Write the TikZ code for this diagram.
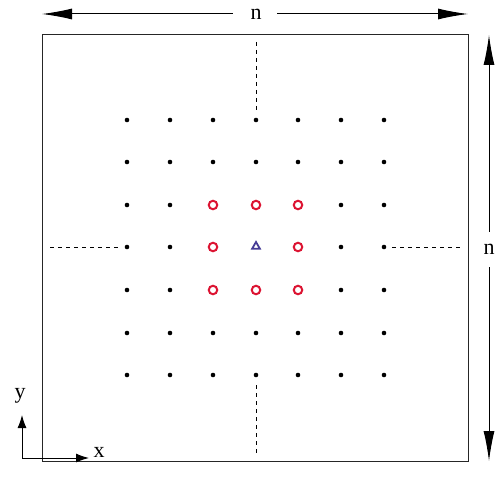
\documentclass[tikz,border=0pt]{standalone}
\usepackage{fontspec}
\setmainfont{Liberation Serif}
\usetikzlibrary{arrows.meta,shapes.geometric}
\definecolor{ringred}{RGB}{220,20,50}
\definecolor{triblue}{RGB}{70,60,150}
\begin{document}
\begin{tikzpicture}[x=1pt,y=-1pt,
  dot/.style={circle,fill=black,inner sep=0pt,minimum size=4.6pt},
  ring/.style={circle,draw=ringred,line width=2pt,inner sep=0pt,minimum size=8.5pt},
  tri/.style={regular polygon,regular polygon sides=3,draw=triblue,line width=1.8pt,inner sep=0pt,minimum size=9pt},
  axis/.style={line width=1pt,-{Latex[length=13pt,width=9pt]}},
  dimarrow/.style={line width=1pt},
  guide/.style={line width=0.7pt,dash pattern=on 4pt off 4pt},
  lab/.style={font=\fontsize{22}{22}\selectfont,inner sep=1pt}]
\useasboundingbox (0,0) rectangle (495,489);
\draw[line width=1pt,draw=black!85] (42,35) rectangle (468,461);
% grid
\foreach \i/\x in {1/127,2/170,3/213,4/256,5/298,6/341,7/384}{
  \foreach \j/\y in {1/120,2/162,3/205,4/247,5/290,6/333,7/375}{
    \pgfmathtruncatemacro{\inr}{(\i>2)*(\i<6)*(\j>2)*(\j<6)}
    \ifnum\inr=0
      \node[dot] (p\i\j) at (\x,\y) {};
    \fi
  }
}
\foreach \i/\x in {3/213,5/298}{
  \foreach \j/\y in {3/205,4/247,5/290}{
    \node[ring] (p\i\j) at (\x,\y) {};
  }
}
\node[ring] (p43) at (256,205) {};
\node[ring] (p45) at (256,290) {};
\node[tri] (p44) at (256,246.5) {};
% dashed guides
\coordinate (tt) at (256,42); \coordinate (tb) at (256,113);
\coordinate (bt) at (256,385); \coordinate (bb) at (256,456);
\coordinate (ll) at (50,247); \coordinate (lr) at (118,247);
\coordinate (rl) at (392,247); \coordinate (rr) at (460,247);
\draw[guide] (tt) -- (tb);
\draw[guide] (bt) -- (bb);
\draw[guide] (ll) -- (lr);
\draw[guide] (rl) -- (rr);
% dimension arrows
\node[lab] (nt) at (256,14) {n};
\coordinate (al) at (42,14); \coordinate (ar) at (468,14);
\draw[dimarrow,{Latex[length=30pt,width=11pt]}-] (al) -- (233,14);
\draw[dimarrow,-{Latex[length=30pt,width=11pt]}] (277,14) -- (ar);
\node[lab] (nr) at (489,249) {n};
\coordinate (au) at (489,35); \coordinate (ad) at (489,461);
\draw[dimarrow,{Latex[length=30pt,width=11pt]}-] (au) -- (489,232);
\draw[dimarrow,-{Latex[length=30pt,width=11pt]}] (489,267) -- (ad);
% axes
\coordinate (o) at (22,458);
\coordinate (xe) at (89,458);
\coordinate (ye) at (22,415);
\draw[axis] (o) -- (xe);
\draw[axis] (o) -- (ye);
\node[lab] (xl) at (99,452) {x};
\node[lab] (yl) at (20,396) {y};
\end{tikzpicture}
\end{document}
